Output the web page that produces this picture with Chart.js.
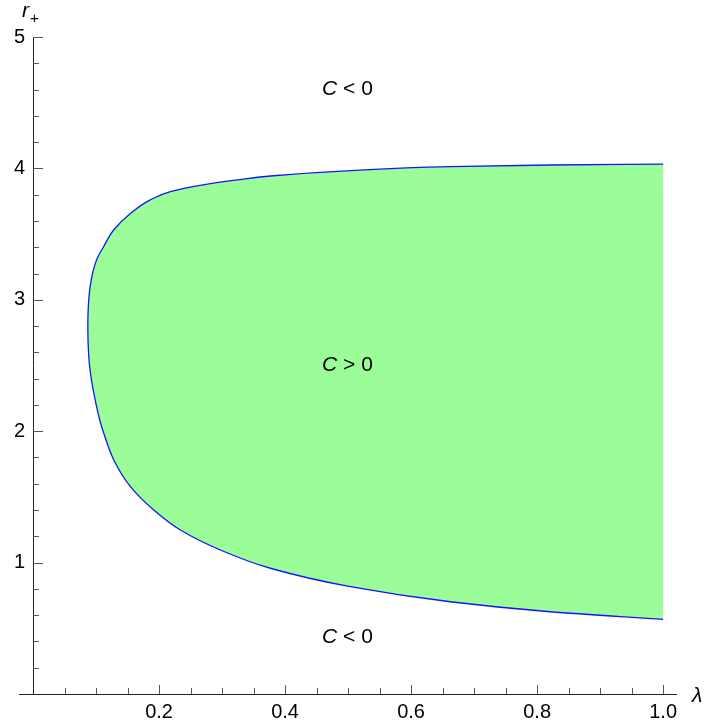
<!DOCTYPE html>
<html>
<head>
<meta charset="utf-8">
<script src="https://cdn.jsdelivr.net/npm/chart.js@4.4.0/dist/chart.umd.min.js"></script>
<style>
  html, body { margin: 0; padding: 0; background: #fff; }
  #wrap { width: 704px; height: 724px; }
</style>
</head>
<body>
<div id="wrap"><canvas id="c"></canvas></div>
<script>
// upper branch of the boundary, lambda going down towards the tip
const lambdaUpper = [1.0, 0.821, 0.662, 0.504, 0.377, 0.324, 0.270, 0.218, 0.186, 0.155, 0.128, 0.112, 0.102, 0.0945, 0.090, 0.0878, 0.087]
const rUpper = [4.033, 4.026, 4.013, 3.983, 3.942, 3.912, 3.874, 3.823, 3.760, 3.658, 3.531, 3.404, 3.316, 3.20, 3.075, 2.95, 2.795]
// lower branch, from the tip back to lambda = 1
const lambdaLower = [0.0885, 0.0915, 0.0955, 0.1059, 0.1123, 0.1282, 0.1546, 0.1916, 0.2339, 0.2974, 0.3767, 0.5036, 0.6622, 0.8208, 1.0]
const rLower = [2.567, 2.43, 2.314, 2.085, 1.984, 1.781, 1.578, 1.400, 1.248, 1.096, 0.957, 0.817, 0.702, 0.626, 0.568]

const xTickValues = [0.05, 0.1, 0.15, 0.2, 0.25, 0.3, 0.35, 0.4, 0.45, 0.5, 0.55, 0.6, 0.65, 0.7, 0.75, 0.8, 0.85, 0.9, 0.95, 1.0]
const xMajor = [0.2, 0.4, 0.6, 0.8, 1.0]
const xMajorLabels = ['0.2', '0.4', '0.6', '0.8', '1.0']
const yTickValues = [0.2, 0.4, 0.6, 0.8, 1, 1.2, 1.4, 1.6, 1.8, 2, 2.2, 2.4, 2.6, 2.8, 3, 3.2, 3.4, 3.6, 3.8, 4, 4.2, 4.4, 4.6, 4.8, 5]
const yMajor = [1, 2, 3, 4, 5]
const yMajorLabels = ['1', '2', '3', '4', '5']

// region labels: [lambda, r, sign]
const regionLabels = [
    [0.499, 4.6, '<'],
    [0.499, 2.5, '>'],
    [0.499, 0.43, '<']
]

const FONT = "'Liberation Sans', Arial, sans-serif"

function isIn(list, v) {
    return list.findIndex(m => Math.abs(m - v) < 1e-6)
}

const boundary = []
for (let i = 0; i < lambdaUpper.length; i++) boundary.push({x: lambdaUpper[i], y: rUpper[i]})
for (let i = 0; i < lambdaLower.length; i++) boundary.push({x: lambdaLower[i], y: rLower[i]})

const axesPlugin = {
    id: 'mmaAxes',
    afterDraw(chart) {
        const ctx = chart.ctx
        const xs = chart.scales.x
        const ys = chart.scales.y
        const x0 = xs.getPixelForValue(0)
        const y0 = ys.getPixelForValue(0)
        ctx.save()
        // axis lines
        ctx.strokeStyle = '#222'
        ctx.lineWidth = 1
        ctx.beginPath()
        ctx.moveTo(x0 - 14, y0 + 0.5)
        ctx.lineTo(xs.right, y0 + 0.5)
        ctx.moveTo(x0 + 0.5, ys.top)
        ctx.lineTo(x0 + 0.5, y0)
        ctx.stroke()
        // inward ticks
        ctx.strokeStyle = '#555'
        ctx.beginPath()
        for (let v of xTickValues) {
            const px = Math.round(xs.getPixelForValue(v)) + 0.5
            const len = isIn(xMajor, v) >= 0 ? 9 : 6
            ctx.moveTo(px, y0)
            ctx.lineTo(px, y0 - len)
        }
        for (let v of yTickValues) {
            const py = Math.round(ys.getPixelForValue(v)) + 0.5
            const len = isIn(yMajor, v) >= 0 ? 10 : 6
            ctx.moveTo(x0, py)
            ctx.lineTo(x0 + len, py)
        }
        ctx.stroke()

        // axis titles
        ctx.fillStyle = '#000'
        ctx.textBaseline = 'alphabetic'
        ctx.textAlign = 'left'
        ctx.font = 'italic 21px ' + FONT
        ctx.fillText('r', x0 - 11, ys.top - 20)
        ctx.font = '15px ' + FONT
        ctx.fillText('+', x0 - 3, ys.top - 14)
        ctx.font = 'italic 21px ' + FONT
        ctx.fillText('\u03bb', xs.right + 15, y0 + 8)

        // region labels
        for (let lab of regionLabels) {
            const cx = xs.getPixelForValue(lab[0])
            const cy = ys.getPixelForValue(lab[1])
            ctx.font = 'italic 21px ' + FONT
            const wC = ctx.measureText('C').width
            ctx.font = '21px ' + FONT
            const rest = ' ' + lab[2] + ' 0'
            const wR = ctx.measureText(rest).width
            const start = cx - (wC + wR) / 2
            ctx.textBaseline = 'middle'
            ctx.font = 'italic 21px ' + FONT
            ctx.fillText('C', start, cy)
            ctx.font = '21px ' + FONT
            ctx.fillText(rest, start + wC, cy)
        }
        ctx.restore()
    }
}

const config = {
    type: 'scatter',
    data: {
        datasets: [{
            data: boundary,
            indexAxis: 'y',
            showLine: true,
            borderColor: 'rgb(20, 20, 255)',
            borderWidth: 1.3,
            backgroundColor: 'rgb(155, 253, 152)',
            fill: 'shape',
            cubicInterpolationMode: 'monotone',
            pointRadius: 0,
            pointHoverRadius: 0
        }]
    },
    options: {
        responsive: true,
        maintainAspectRatio: false,
        animation: false,
        events: [],
        layout: {padding: {top: 37, right: 27, left: 0, bottom: 0}},
        plugins: {legend: {display: false}, tooltip: {enabled: false}},
        scales: {
            x: {
                type: 'linear',
                min: 0,
                max: 1.022,
                afterBuildTicks: s => { s.ticks = xTickValues.map(v => ({value: v})) },
                afterFit: s => { s.height = 30 },
                grid: {display: false, drawTicks: false},
                border: {display: false},
                ticks: {
                    autoSkip: false,
                    maxRotation: 0,
                    padding: 6,
                    color: '#000',
                    font: {family: FONT, size: 20},
                    callback: v => {
                        const i = isIn(xMajor, v)
                        return i >= 0 ? xMajorLabels[i] : ''
                    }
                }
            },
            y: {
                type: 'linear',
                min: 0,
                max: 5,
                afterBuildTicks: s => { s.ticks = yTickValues.map(v => ({value: v})) },
                afterFit: s => { s.width = 33 },
                grid: {display: false, drawTicks: false},
                border: {display: false},
                ticks: {
                    autoSkip: false,
                    padding: 8,
                    color: '#000',
                    font: {family: FONT, size: 20},
                    callback: v => {
                        const i = isIn(yMajor, v)
                        return i >= 0 ? yMajorLabels[i] : ''
                    }
                }
            }
        }
    },
    plugins: [axesPlugin]
}

new Chart(document.getElementById('c'), config)
</script>
</body>
</html>
